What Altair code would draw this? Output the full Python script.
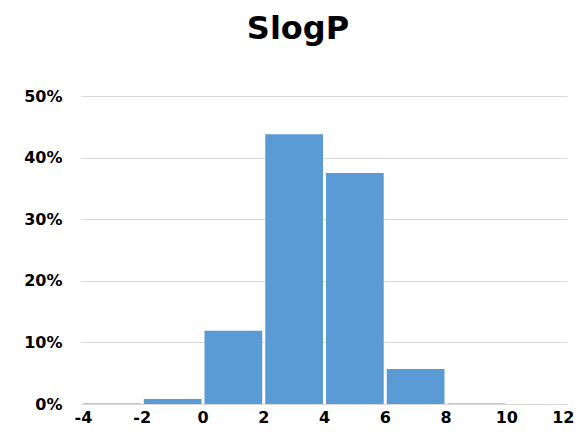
import altair as alt
import pandas as pd

bin_start = [-4, -2, 0, 2, 4, 6, 8, 10]
bin_end = [-2, 0, 2, 4, 6, 8, 10, 12]
share = [0.001, 0.008, 0.119, 0.438, 0.375, 0.057, 0.001, 0.0]
x_ticks = [-4, -2, 0, 2, 4, 6, 8, 10, 12]
y_ticks = [0, 0.1, 0.2, 0.3, 0.4, 0.5]

df = pd.DataFrame({"start": bin_start, "end": bin_end, "share": share})

FONT = "DejaVu Sans"

chart = (
    alt.Chart(df)
    .mark_bar(color="#5B9BD5", binSpacing=3)
    .encode(
        x=alt.X(
            "start:Q",
            bin="binned",
            scale=alt.Scale(domain=[-4, 12], nice=False, zero=False),
            axis=alt.Axis(
                values=x_ticks, title=None, grid=False, domain=False, ticks=False,
                labelFontSize=16, labelFontWeight="bold", labelFont=FONT,
                labelColor="#000000", labelPadding=5, labelFlush=True,
                labelFlushOffset=7,
                labelOverlap=False, labelExpr="'' + datum.value",
            ),
        ),
        x2="end:Q",
        y=alt.Y(
            "share:Q",
            scale=alt.Scale(domain=[0, 0.5], nice=False),
            axis=alt.Axis(
                values=y_ticks, format=".0%", title=None, domain=False, ticks=False,
                grid=True, gridColor="#D9D9D9", gridWidth=1,
                labelFontSize=16, labelFontWeight="bold", labelFont=FONT,
                labelColor="#000000", labelPadding=19,
            ),
        ),
    )
    .properties(
        width=486,
        height=308,
        autosize=alt.AutoSizeParams(type="none"),
        padding={"left": 73, "top": 88, "right": 8, "bottom": 22},
        title=alt.TitleParams(
            "SlogP", fontSize=32, fontWeight="bold", font=FONT, color="#000000",
            anchor="middle", dx=-26, offset=42,
        ),
    )
    .configure_view(stroke=None)
)

chart.save("out.html", embed_options={"renderer": "svg", "actions": False})
